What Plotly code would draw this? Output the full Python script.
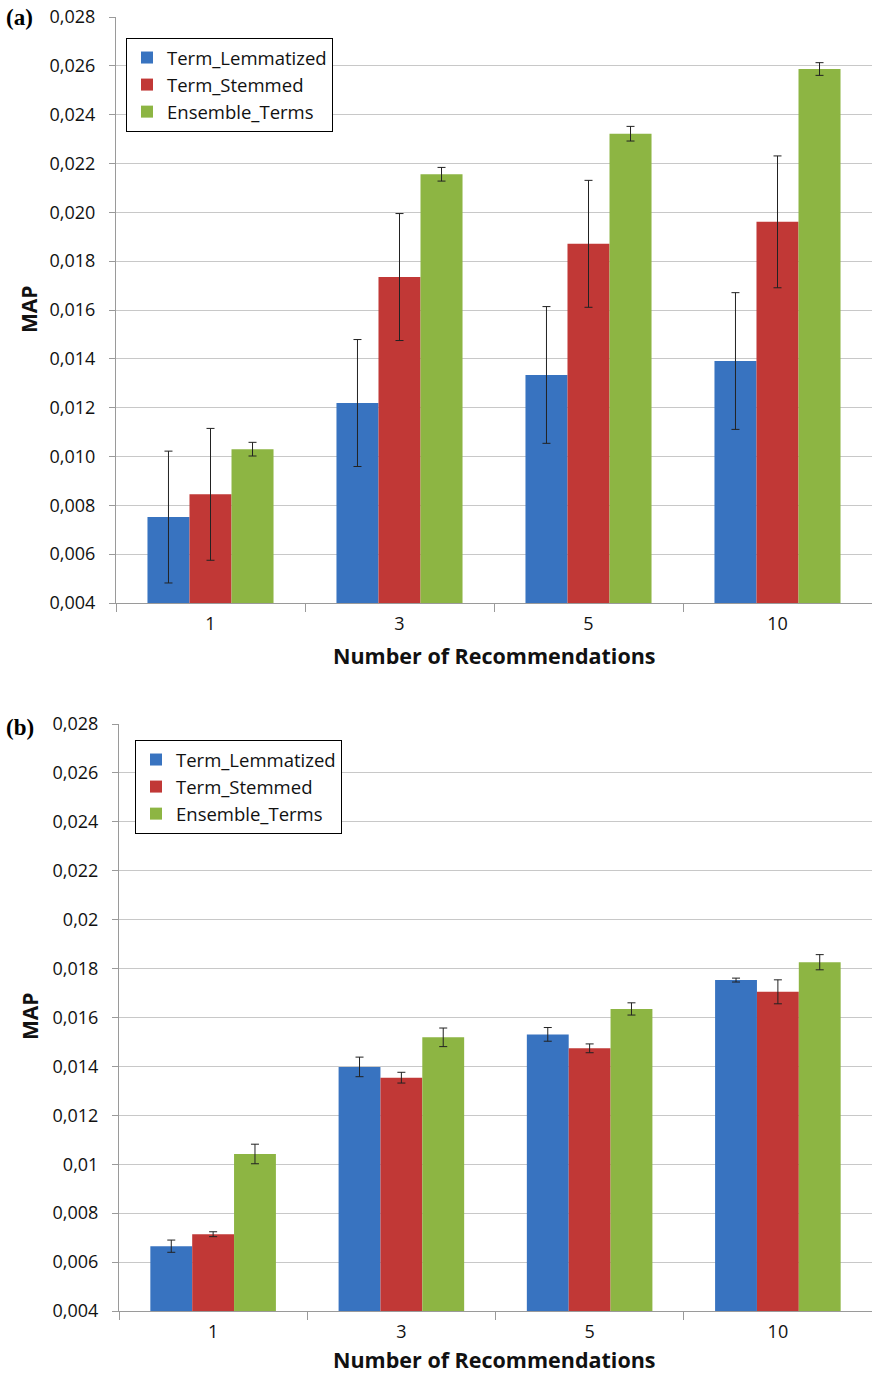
import plotly.graph_objects as go

categories = ["1", "3", "5", "10"]
series_names = ["Term_Lemmatized", "Term_Stemmed", "Ensemble_Terms"]

# Panel (a)
a_lem = [0.00752, 0.01219, 0.01334, 0.01391]
a_lem_err = [0.0027, 0.0026, 0.0028, 0.0028]
a_stem = [0.00845, 0.01735, 0.01871, 0.01961]
a_stem_err = [0.0027, 0.0026, 0.0026, 0.0027]
a_ens = [0.0103, 0.02156, 0.02322, 0.02587]
a_ens_err = [0.00028, 0.00028, 0.0003, 0.00026]

# Panel (b)
b_lem = [0.00665, 0.01398, 0.01531, 0.01753]
b_lem_err = [0.00025, 0.0004, 0.00028, 0.00008]
b_stem = [0.00714, 0.01354, 0.01474, 0.01705]
b_stem_err = [0.0001, 0.00022, 0.00018, 0.00049]
b_ens = [0.01042, 0.01519, 0.01635, 0.01826]
b_ens_err = [0.0004, 0.00038, 0.00025, 0.00031]

tick_vals = [0.004, 0.006, 0.008, 0.010, 0.012, 0.014, 0.016, 0.018,
             0.020, 0.022, 0.024, 0.026, 0.028]
a_tick_text = ["0,004", "0,006", "0,008", "0,010", "0,012", "0,014", "0,016",
               "0,018", "0,020", "0,022", "0,024", "0,026", "0,028"]
b_tick_text = ["0,004", "0,006", "0,008", "0,01", "0,012", "0,014", "0,016",
               "0,018", "0,02", "0,022", "0,024", "0,026", "0,028"]

colors = ["#3873c0", "#c13836", "#8db543"]

W, H = 872, 1374
FONT = "Open Sans"

fig = go.Figure()

panels = [
    ("x", "y", "legend", [a_lem, a_stem, a_ens], [a_lem_err, a_stem_err, a_ens_err]),
    ("x2", "y2", "legend2", [b_lem, b_stem, b_ens], [b_lem_err, b_stem_err, b_ens_err]),
]

for xa, ya, lg, vals, errs in panels:
    for name, v, e, c in zip(series_names, vals, errs, colors):
        fig.add_trace(go.Bar(
            x=categories, y=v, name=name, xaxis=xa, yaxis=ya, legend=lg,
            marker=dict(color=c, line=dict(width=0)),
            error_y=dict(type="data", array=e, visible=True,
                         color="#222222", thickness=1, width=4),
        ))

def px_y(p):
    return 1 - p / H

def px_x(p):
    return p / W

axis_common = dict(
    automargin=False,
    showline=True, linecolor="#9a9a9a", linewidth=1,
    ticks="outside", tickcolor="#9a9a9a",
    tickfont=dict(family=FONT, size=18, color="#111111"),
)

legend_common = dict(
    xanchor="left", yanchor="top",
    bgcolor="white", bordercolor="#000000", borderwidth=1,
    font=dict(family=FONT, size=18.5, color="#111111"),
    tracegroupgap=0, itemwidth=30,
)

fig.update_layout(
    width=W, height=H,
    margin=dict(l=0, r=0, t=0, b=0, pad=0),
    paper_bgcolor="white", plot_bgcolor="white",
    barmode="group", bargap=0.333, bargroupgap=0,
    showlegend=True,
    xaxis=dict(domain=[px_x(116), 1.0], anchor="y", type="category",
               tickson="boundaries", ticklen=8, ticklabelstandoff=4,
               showgrid=False, **axis_common),
    yaxis=dict(domain=[px_y(603), px_y(17)], anchor="x",
               range=[0.004, 0.028], tickvals=tick_vals, ticktext=a_tick_text,
               ticklen=6, ticklabelstandoff=10,
               showgrid=True, gridcolor="#c8c8c8", gridwidth=1,
               zeroline=False, **axis_common),
    xaxis2=dict(domain=[px_x(119), 1.0], anchor="y2", type="category",
                tickson="boundaries", ticklen=8, ticklabelstandoff=4,
                showgrid=False, **axis_common),
    yaxis2=dict(domain=[px_y(1311), px_y(724)], anchor="x2",
                range=[0.004, 0.028], tickvals=tick_vals, ticktext=b_tick_text,
                ticklen=6, ticklabelstandoff=10,
                showgrid=True, gridcolor="#c8c8c8", gridwidth=1,
                zeroline=False, **axis_common),
    legend=dict(x=px_x(126), y=px_y(38), **legend_common),
    legend2=dict(x=px_x(135), y=px_y(740), **legend_common),
)

annotations = [
    dict(text="<b>(a)</b>", x=px_x(4), y=px_y(17), xanchor="left", yanchor="middle",
         font=dict(family="Liberation Serif", size=23, color="#000")),
    dict(text="<b>(b)</b>", x=px_x(4), y=px_y(727), xanchor="left", yanchor="middle",
         font=dict(family="Liberation Serif", size=23, color="#000")),
    dict(text="<b>MAP</b>", x=px_x(29), y=px_y(310), textangle=-90,
         xanchor="center", yanchor="middle",
         font=dict(family=FONT, size=21, color="#111")),
    dict(text="<b>MAP</b>", x=px_x(30), y=px_y(1017), textangle=-90,
         xanchor="center", yanchor="middle",
         font=dict(family=FONT, size=21, color="#111")),
    dict(text="<b>Number of Recommendations</b>", x=px_x(495), y=px_y(655),
         xanchor="center", yanchor="middle",
         font=dict(family=FONT, size=21.5, color="#111")),
    dict(text="<b>Number of Recommendations</b>", x=px_x(494), y=px_y(1359),
         xanchor="center", yanchor="middle",
         font=dict(family=FONT, size=21.5, color="#111")),
]
for a in annotations:
    a.update(xref="paper", yref="paper", showarrow=False)
fig.update_layout(annotations=annotations)

fig.write_html("out.html", config={"displayModeBar": False},
               post_script="document.body.style.margin='0';document.body.style.padding='0';")
